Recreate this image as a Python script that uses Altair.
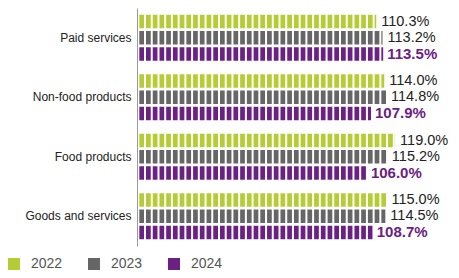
import altair as alt
import pandas as pd

# Price indices by category, percent of previous year
categories = ["Paid services", "Non-food products", "Food products", "Goods and services"]
years = ["2022", "2023", "2024"]
v2022 = [110.3, 114.0, 119.0, 115.0]
v2023 = [113.2, 114.8, 115.2, 114.5]
v2024 = [113.5, 107.9, 106.0, 108.7]
colors = ["#b5cc34", "#666666", "#6b2184"]

rows = []
for cat, a, b, c in zip(categories, v2022, v2023, v2024):
    for yr, v in zip(years, (a, b, c)):
        rows.append({"category": cat, "year": yr, "value": v})
df = pd.DataFrame(rows)

# thin white separators that split every bar into blocks
STEP = 3.1
gaps = pd.DataFrame({"g": [0.6 + STEP * k for k in range(40)]})

FONT = "Liberation Sans"
xscale = alt.Scale(domain=[0, 148], nice=False, zero=True)
x = alt.X("value:Q", scale=xscale, axis=None)
y = alt.Y(
    "category:N",
    sort=categories,
    scale=alt.Scale(paddingInner=0.227, paddingOuter=0.1135),
    axis=alt.Axis(
        title=None, ticks=False, domain=True, domainColor="#9a9a9a",
        labelFontSize=12, labelColor="#222222", labelPadding=6,
        labelFont=FONT, zindex=1,
    ),
)
yoff = alt.YOffset("year:N", sort=years, scale=alt.Scale(paddingInner=0.16, paddingOuter=0))

bars = alt.Chart(df).mark_bar().encode(
    x=x,
    y=y,
    yOffset=yoff,
    color=alt.Color(
        "year:N",
        scale=alt.Scale(domain=years, range=colors),
        legend=alt.Legend(
            title=None, orient="none", direction="horizontal",
            legendX=-130, legendY=249,
            symbolType="square", symbolSize=144, symbolStrokeWidth=0,
            symbolOpacity=1,
            labelFontSize=14, labelColor="#555555", labelFont=FONT,
            labelOffset=10, columnPadding=24,
        ),
    ),
)

separators = alt.Chart(gaps).mark_rule(color="white", strokeWidth=2).encode(
    x=alt.X("g:Q", scale=xscale, axis=None)
)

base_text = alt.Chart(df).transform_calculate(
    label="format(datum.value, '.1f') + '%'"
)

labels_prev = base_text.transform_filter("datum.year != '2024'").mark_text(
    align="left", baseline="middle", dx=5, fontSize=14.5, color="#222222", font=FONT
).encode(x=x, y=y, yOffset=yoff, text="label:N")

labels_last = base_text.transform_filter("datum.year == '2024'").mark_text(
    align="left", baseline="middle", dx=4, fontSize=15, fontWeight="bold",
    color=colors[2], font=FONT
).encode(x=x, y=y, yOffset=yoff, text="label:N")

chart = (
    alt.layer(bars, separators, labels_prev, labels_last)
    .properties(
        width=321,
        height=238,
        autosize=alt.AutoSizeParams(type="none"),
        padding={"left": 137, "top": 8, "right": 1, "bottom": 32},
    )
    .configure_view(stroke=None)
)

chart.save("out.html", embed_options={"renderer": "svg", "actions": False})
